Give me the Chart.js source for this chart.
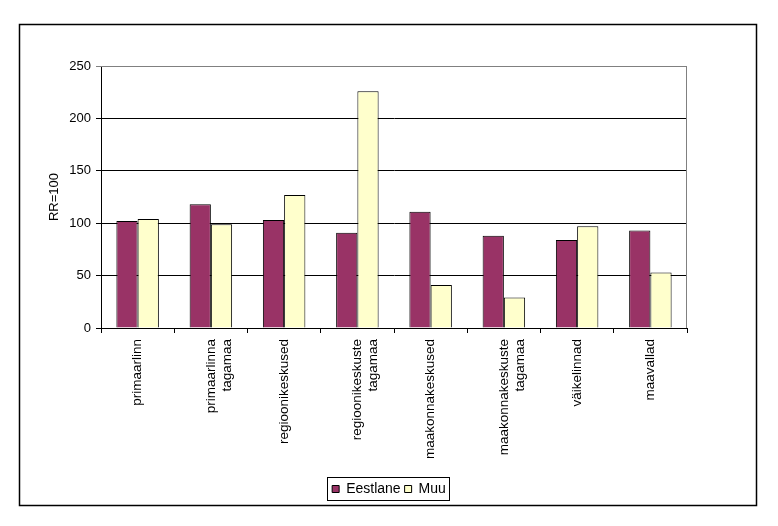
<!DOCTYPE html>
<html lang="et">
<head>
    <meta charset="UTF-8">
    <title>RR=100</title>
    <style>
        body {
            margin: 0;
            background: #fff;
        }
        .wrap {
            width: 778px;
            height: 526px;
        }
    </style>
</head>
<body>
    <div class="wrap">
        <canvas id="chart" width="778" height="526"></canvas>
    </div>

    <script src="https://cdn.jsdelivr.net/npm/chart.js"></script>

    <script>
        // andmed
        const categories = [
            'primaarlinn',
            ['primaarlinna', 'tagamaa'],
            'regioonikeskused',
            ['regioonikeskuste', 'tagamaa'],
            'maakonnakeskused',
            ['maakonnakeskuste', 'tagamaa'],
            'väikelinnad',
            'maavallad'
        ];
        const eestlane = [102, 118, 103, 91, 111, 88, 84, 93];
        const muu = [104, 99, 127, 226, 41, 29, 97, 53];
        const yTicks = [0, 50, 100, 150, 200, 250];

        const FONT = 'Arial, "Liberation Sans", sans-serif';

        // raamid: välisraam, joonisala ja legendi kast
        const framePlugin = {
            id: 'frames',
            afterLayout(chart) {
                // legend keskele kogu lehe suhtes
                chart.legend.left += 22;
                chart.legend.right += 22;
            },
            afterDraw(chart) {
                const ctx = chart.ctx;
                const a = chart.chartArea;
                ctx.save();
                ctx.strokeStyle = '#000';
                ctx.lineWidth = 1.5;
                ctx.strokeRect(19.5, 24.5, 737, 481);

                ctx.strokeStyle = '#808080';
                ctx.lineWidth = 1;
                ctx.beginPath();
                ctx.moveTo(a.left, a.top + 0.5);
                ctx.lineTo(a.right - 0.5, a.top + 0.5);
                ctx.lineTo(a.right - 0.5, a.bottom);
                ctx.stroke();

                const boxes = chart.legend.legendHitBoxes;
                if (boxes && boxes.length) {
                    const l = Math.min(...boxes.map(b => b.left));
                    const r = Math.max(...boxes.map(b => b.left + b.width));
                    const t = Math.min(...boxes.map(b => b.top));
                    const h = Math.max(...boxes.map(b => b.height));
                    ctx.strokeStyle = '#000';
                    ctx.lineWidth = 1;
                    ctx.strokeRect(Math.round(l - 5) + 0.5, Math.round(t - 5) + 0.5,
                        Math.round(r - l + 8), Math.round(h + 9));
                }
                ctx.restore();
            }
        };

        new Chart(document.getElementById('chart'), {
            type: 'bar',
            data: {
                labels: categories,
                datasets: [{
                    label: 'Eestlane',
                    data: eestlane,
                    backgroundColor: '#993366',
                    borderColor: '#000',
                    borderWidth: 1
                }, {
                    label: 'Muu',
                    data: muu,
                    backgroundColor: '#FFFFCC',
                    borderColor: '#000',
                    borderWidth: 1
                }]
            },
            options: {
                responsive: false,
                animation: false,
                devicePixelRatio: 1,
                categoryPercentage: 0.58,
                barPercentage: 1,
                layout: {
                    padding: { left: 47, top: 66, right: 91, bottom: 20 }
                },
                plugins: {
                    legend: {
                        position: 'bottom',
                        labels: {
                            color: '#000',
                            font: { family: FONT, size: 14 },
                            boxWidth: 7,
                            boxHeight: 7,
                            padding: 4
                        }
                    },
                    tooltip: { enabled: false }
                },
                scales: {
                    x: {
                        grid: {
                            offset: true,
                            drawOnChartArea: false,
                            drawTicks: true,
                            tickLength: 5,
                            color: '#000'
                        },
                        border: { color: '#000', width: 1 },
                        ticks: {
                            color: '#000',
                            font: { family: FONT, size: 13.5 },
                            minRotation: 90,
                            maxRotation: 90,
                            padding: 6
                        },
                        afterFit(scale) {
                            scale.height = 150;
                        }
                    },
                    y: {
                        min: 0,
                        max: 250,
                        afterBuildTicks(scale) {
                            scale.ticks = yTicks.map(v => ({ value: v }));
                        },
                        grid: {
                            color: ctx => (ctx.tick && ctx.tick.value === 250) ? '#808080' : '#000',
                            tickLength: 5
                        },
                        border: { color: '#000', width: 1 },
                        ticks: {
                            color: '#000',
                            font: { family: FONT, size: 13 },
                            padding: 5
                        },
                        title: {
                            display: true,
                            text: 'RR=100',
                            color: '#000',
                            font: { family: FONT, size: 13 },
                            padding: 0
                        },
                        afterFit(scale) {
                            scale.width = 54;
                        }
                    }
                }
            },
            plugins: [framePlugin]
        });
    </script>
</body>
</html>
